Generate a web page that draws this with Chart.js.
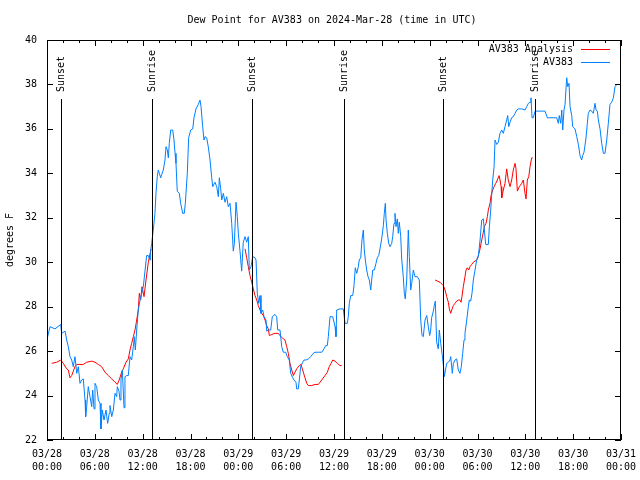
<!DOCTYPE html>
<html>
<head>
<meta charset="utf-8">
<script src="https://cdn.jsdelivr.net/npm/chart.js@4"></script>
<style>
  html, body { margin: 0; padding: 0; background: #fff; }
  #wrap { width: 640px; height: 480px; }
</style>
</head>
<body>
<div id="wrap"><canvas id="chart" width="640" height="480"></canvas></div>
<script>
// hours after 03/28 00:00 UTC and dew point (deg F)
const obsHours = [
  0.05, 0.38, 1.00, 1.72, 1.84, 2.26, 2.47, 2.67, 2.89, 3.10,
  3.30, 3.51, 3.73, 3.93, 4.14, 4.35, 4.55, 4.77, 4.85, 4.98,
  5.18, 5.39, 5.61, 5.73, 5.90, 6.02, 6.23, 6.44, 6.65, 6.77,
  6.94, 7.15, 7.40, 7.61, 7.81, 7.90, 8.12, 8.32, 8.53, 8.74,
  8.82, 9.03, 9.16, 9.28, 9.45, 9.66, 9.78, 10.00, 10.20, 10.41,
  10.62, 10.83, 10.95, 11.08, 11.25, 11.45, 11.67, 12.08, 12.29, 12.50,
  12.71, 12.92, 13.00, 13.13, 13.33, 13.54, 13.67, 13.83, 13.96, 14.09,
  14.26, 14.39, 14.59, 14.80, 14.93, 15.09, 15.22, 15.34, 15.52, 15.77,
  15.93, 16.06, 16.18, 16.34, 16.60, 16.77, 17.02, 17.22, 17.35, 17.60,
  17.77, 18.03, 18.28, 18.44, 18.69, 18.98, 19.19, 19.32, 19.53, 19.69,
  19.82, 20.03, 20.23, 20.45, 20.66, 20.79, 21.07, 21.29, 21.49, 21.62,
  21.79, 21.92, 22.12, 22.33, 22.54, 22.74, 22.96, 23.17, 23.37, 23.50,
  23.71, 23.87, 24.00, 24.21, 24.42, 24.62, 24.84, 25.05, 25.25, 25.38,
  25.59, 25.80, 26.09, 26.22, 26.38, 26.56, 26.72, 26.84, 27.06, 27.22,
  27.47, 27.56, 27.76, 28.06, 28.26, 28.60, 28.81, 28.94, 29.23, 29.44,
  29.64, 29.94, 30.14, 30.39, 30.57, 30.82, 30.98, 31.23, 31.32, 31.52,
  31.65, 31.82, 32.07, 32.24, 32.49, 32.78, 33.08, 33.40, 33.62, 34.03,
  34.46, 34.66, 34.96, 35.16, 35.29, 35.50, 35.84, 36.13, 36.25, 36.34,
  36.75, 37.17, 37.38, 37.67, 37.79, 37.92, 38.10, 38.35, 38.51, 38.67,
  38.85, 39.05, 39.17, 39.35, 39.51, 39.68, 39.80, 39.93, 40.10, 40.27,
  40.43, 40.61, 40.73, 40.86, 41.06, 41.27, 41.43, 41.61, 41.77, 41.98,
  42.19, 42.31, 42.44, 42.53, 42.69, 42.86, 43.03, 43.24, 43.36, 43.53,
  43.65, 43.78, 43.94, 44.07, 44.19, 44.37, 44.50, 44.69, 44.82, 44.94,
  45.12, 45.32, 45.45, 45.62, 45.75, 45.95, 46.16, 46.45, 46.70, 46.88,
  47.04, 47.20, 47.42, 47.63, 47.83, 48.00, 48.13, 48.25, 48.46, 48.58,
  48.71, 48.88, 49.08, 49.21, 49.39, 49.55, 49.71, 49.84, 49.96, 50.14,
  50.34, 50.55, 50.64, 50.84, 50.97, 51.18, 51.39, 51.59, 51.80, 51.97,
  52.14, 52.31, 52.43, 52.65, 52.85, 52.97, 53.15, 53.31, 53.48, 53.69,
  53.90, 54.10, 54.32, 54.53, 54.73, 54.86, 55.03, 55.36, 55.49, 55.66,
  55.79, 55.91, 56.08, 56.20, 56.41, 56.61, 56.82, 57.04, 57.24, 57.45,
  57.66, 57.79, 57.92, 58.08, 58.29, 58.49, 58.71, 58.92, 59.12, 59.55,
  59.96, 60.17, 60.38, 60.59, 60.71, 60.84, 61.00, 61.22, 62.47, 62.76,
  63.94, 64.14, 64.26, 64.44, 64.57, 64.69, 64.85, 64.98, 65.19, 65.32,
  65.48, 65.61, 65.82, 65.94, 66.23, 66.45, 66.65, 66.86, 67.07, 67.20,
  67.36, 67.58, 67.78, 67.90, 68.11, 68.33, 68.53, 68.74, 68.87, 69.03,
  69.16, 69.37, 69.58, 69.79, 69.99, 70.21, 70.41, 70.62, 70.83, 71.04,
  71.25, 71.46, 71.88, 72.00
];
const obsDewPoint = [
  26.6, 27.1, 27.0, 27.2, 26.8, 26.9, 26.5, 26.2, 25.75, 25.6,
  25.3, 25.75, 25.0, 25.3, 24.55, 24.7, 24.75, 23.8, 23.05, 23.5,
  24.4, 23.95, 23.5, 24.25, 23.4, 24.55, 24.4, 23.8, 23.65, 22.5,
  23.35, 22.9, 23.35, 22.75, 23.2, 23.55, 23.05, 23.35, 24.1, 23.95,
  24.4, 24.2, 23.8, 24.7, 25.15, 23.45, 24.85, 24.9, 24.9, 25.75,
  25.6, 26.2, 26.65, 26.05, 26.95, 27.85, 28.3, 28.9, 29.6, 30.3,
  30.3, 30.1, 30.5, 30.85, 31.45, 32.2, 33.1, 33.85, 34.15, 34.0,
  33.8, 33.95, 34.15, 34.6, 35.2, 35.05, 34.7, 35.35, 35.95, 35.95,
  35.5, 34.9, 34.45, 33.2, 33.1, 32.65, 32.2, 32.2, 32.65, 34.0,
  35.6, 35.95, 36.0, 36.5, 36.9, 37.1, 37.3, 37.0, 36.1, 35.5,
  35.65, 35.6, 35.2, 34.6, 33.8, 33.4, 33.6, 33.4, 32.95, 33.8,
  33.3, 32.8, 33.1, 32.7, 32.95, 32.5, 32.65, 31.75, 30.5, 30.85,
  32.7, 32.05, 31.3, 30.5, 29.6, 30.9, 31.15, 30.9, 31.15, 29.65,
  29.8, 30.25, 30.2, 30.1, 28.6, 28.15, 28.5, 27.7, 27.85, 27.55,
  27.4, 26.9, 26.95, 26.95, 27.55, 27.65, 27.55, 26.95, 26.95, 26.2,
  25.95, 25.95, 25.75, 25.6, 25.0, 24.8, 24.7, 24.6, 24.3, 24.3,
  24.7, 25.3, 25.5, 25.6, 25.6, 25.65, 25.75, 25.9, 25.95, 25.95,
  25.95, 26.05, 26.25, 26.25, 26.65, 27.55, 27.55, 27.1, 26.65, 27.85,
  27.9, 27.9, 27.25, 27.25, 27.55, 28.15, 28.5, 28.5, 28.95, 29.75,
  29.5, 29.8, 30.1, 30.2, 31.0, 31.45, 30.55, 30.1, 29.65, 29.35,
  29.2, 28.75, 29.2, 29.65, 29.65, 29.95, 30.2, 30.3, 30.6, 31.05,
  31.65, 32.2, 32.65, 31.9, 31.3, 30.85, 30.7, 30.85, 31.15, 31.75,
  32.2, 31.6, 31.95, 31.3, 31.8, 31.15, 30.1, 29.35, 28.6, 28.35,
  29.2, 31.45, 30.25, 28.75, 29.05, 29.65, 29.35, 29.35, 29.2, 27.4,
  26.7, 26.65, 27.4, 27.6, 27.1, 26.7, 26.95, 27.5, 27.8, 28.05,
  28.25, 26.4, 26.1, 26.95, 26.35, 25.9, 25.4, 24.85, 25.1, 25.45,
  25.5, 25.6, 25.75, 25.0, 25.45, 25.6, 25.65, 25.15, 25.0, 25.3,
  25.9, 26.5, 26.8, 27.4, 28.0, 28.3, 28.25, 28.6, 29.2, 29.65,
  30.1, 30.25, 31.0, 31.9, 31.95, 31.45, 30.8, 30.8, 31.6, 32.35,
  33.1, 33.7, 34.3, 35.5, 35.3, 35.4, 35.8, 35.95, 35.8, 36.1,
  36.4, 36.6, 36.1, 36.3, 36.5, 36.55, 36.7, 36.85, 36.9, 36.9,
  36.85, 37.0, 37.15, 37.2, 37.4, 36.5, 36.5, 36.8, 36.8, 36.5,
  36.5, 36.25, 36.6, 36.25, 36.85, 35.95, 36.85, 37.1, 38.3, 37.9,
  38.05, 37.0, 36.6, 36.1, 36.0, 35.65, 35.3, 34.8, 34.6, 34.8,
  34.95, 35.5, 36.25, 36.7, 36.85, 36.8, 36.7, 37.15, 36.85, 36.8,
  36.4, 36.0, 35.35, 34.9, 34.9, 35.5, 36.25, 37.1, 37.2, 37.4,
  37.9, 38.0, 38.0, 38.0
];

// analysis series, null marks the gaps between its three pieces
const analysisHours = [
  0.59, 1.22, 1.72, 2.04, 2.47, 2.67, 2.89, 3.10, 3.30, 3.51,
  3.73, 4.14, 4.55, 4.98, 5.61, 6.02, 6.44, 6.86, 7.27, 7.69,
  8.12, 8.53, 8.82, 9.06, 9.36, 9.57, 9.91, 10.20, 10.41, 10.62,
  10.83, 11.04, 11.25, 11.45, 11.58, 11.75, 11.92, 12.17, 12.42, 12.71,
  13.05, 19.00,
  24.84, 25.05, 25.25, 25.46, 25.68, 25.88, 26.09, 26.31, 26.51, 26.72,
  26.93, 27.13, 27.35, 27.56, 27.76, 27.89, 28.19, 28.60, 29.02, 29.23,
  29.64, 29.85, 30.07, 30.27, 30.48, 30.70, 30.90, 31.11, 31.32, 31.65,
  31.86, 32.07, 32.36, 32.58, 32.78, 33.20, 33.62, 34.03, 34.46, 34.87,
  35.16, 35.41, 35.63, 35.84, 36.13, 36.42, 36.75, 36.97, 43.00,
  48.67, 49.30, 49.71, 49.93, 50.14, 50.34, 50.47, 50.64, 50.77, 50.97,
  51.18, 51.39, 51.59, 51.80, 51.93, 52.05, 52.22, 52.43, 52.56, 52.72,
  52.90, 53.06, 53.27, 53.48, 53.69, 53.90, 54.10, 54.32, 54.53, 54.73,
  54.86, 55.07, 55.24, 55.36, 55.57, 55.70, 55.91, 56.08, 56.29, 56.49,
  56.71, 56.83, 56.96, 57.04, 57.24, 57.45, 57.66, 57.86, 58.08, 58.29,
  58.49, 58.71, 58.83, 59.00, 59.25, 59.55, 59.75, 59.96, 60.09, 60.25,
  60.43, 60.59, 60.80, 60.92
];
const analysisDewPoint = [
  25.45, 25.5, 25.6, 25.45, 25.2, 25.15, 24.8, 24.9, 25.1, 25.3,
  25.4, 25.4, 25.4, 25.5, 25.55, 25.5, 25.4, 25.3, 25.05, 24.9,
  24.75, 24.6, 24.5, 24.7, 25.05, 25.2, 25.5, 25.65, 26.05, 26.35,
  26.65, 26.95, 27.4, 27.85, 28.6, 28.3, 28.9, 28.45, 29.2, 30.0,
  30.6, null,
  30.6, 30.2, 29.8, 29.4, 29.1, 28.8, 28.5, 28.3, 28.05, 27.85,
  27.7, 27.6, 27.4, 27.15, 27.0, 26.7, 26.75, 26.8, 26.8, 26.7,
  26.55, 26.5, 26.2, 25.9, 25.45, 25.15, 24.9, 25.05, 25.2, 25.35,
  25.4, 25.15, 24.8, 24.55, 24.45, 24.45, 24.5, 24.5, 24.7, 24.9,
  25.05, 25.3, 25.45, 25.6, 25.55, 25.45, 25.35, 25.35, null,
  29.2, 29.1, 28.95, 28.75, 28.45, 28.2, 27.9, 27.7, 27.85, 28.05,
  28.15, 28.25, 28.3, 28.3, 28.2, 28.45, 28.9, 29.35, 29.65, 29.75,
  29.65, 29.8, 29.9, 30.0, 30.05, 30.1, 30.3, 30.6, 31.0, 31.35,
  31.6, 31.75, 32.05, 32.35, 32.65, 33.0, 33.25, 33.4, 33.55, 33.7,
  33.9, 33.7, 33.4, 32.9, 33.25, 33.55, 34.2, 33.7, 33.4, 33.7,
  34.15, 34.45, 34.2, 33.2, 33.4, 33.55, 33.7, 33.1, 32.85, 33.7,
  33.85, 34.3, 34.7, 34.7
];

const sunHours = [1.72, 13.21, 25.71, 37.29, 49.71, 61.25];
const sunLabels = ['Sunset', 'Sunrise', 'Sunset', 'Sunrise', 'Sunset', 'Sunrise'];

const dayLabels = ['03/28', '03/28', '03/28', '03/28', '03/29', '03/29', '03/29',
                   '03/29', '03/30', '03/30', '03/30', '03/30', '03/31'];
const timeLabels = ['00:00', '06:00', '12:00', '18:00', '00:00', '06:00', '12:00',
                    '18:00', '00:00', '06:00', '12:00', '18:00', '00:00'];

const FONT_FAMILY = 'DejaVu Sans Mono';
const FONT = '10px "DejaVu Sans Mono"';

function toPoints(xs, ys) {
    return xs.map((h, i) => ({ x: h, y: ys[i] }));
}

function hline(ctx, x1, y1, x2, y2) {
    ctx.beginPath();
    ctx.moveTo(x1, y1);
    ctx.lineTo(x2, y2);
    ctx.stroke();
}

// gnuplot-like frame, inward ticks, sun markers, title and key
const gnuplotLook = {
    id: 'gnuplotLook',
    beforeDraw(chart) {
        const ctx = chart.ctx;
        ctx.save();
        ctx.fillStyle = '#fff';
        ctx.fillRect(0, 0, chart.width, chart.height);
        ctx.restore();
    },
    afterDatasetsDraw(chart) {
        const { ctx, chartArea: a, scales: { x, y } } = chart;
        ctx.save();
        ctx.strokeStyle = '#000';
        ctx.fillStyle = '#000';
        ctx.lineWidth = 1;
        ctx.font = FONT;

        sunHours.forEach((h, i) => {
            const px = Math.round(x.getPixelForValue(h)) + 0.5;
            hline(ctx, px, a.top + 59, px, a.bottom);
            ctx.save();
            ctx.translate(px, a.top + 52);
            ctx.rotate(-Math.PI / 2);
            ctx.textAlign = 'left';
            ctx.textBaseline = 'middle';
            ctx.fillText(sunLabels[i], 0, 0);
            ctx.restore();
        });

        // frame
        ctx.strokeRect(a.left + 0.5, a.top + 0.5, a.right - a.left - 1, a.bottom - a.top - 1);

        // ticks on all four sides, pointing in
        x.ticks.forEach(t => {
            const px = Math.round(x.getPixelForValue(t.value)) + 0.5;
            const len = t.value % 6 === 0 ? 6 : 3;
            hline(ctx, px, a.bottom, px, a.bottom - len);
            hline(ctx, px, a.top, px, a.top + len);
        });
        y.ticks.forEach(t => {
            const py = Math.round(y.getPixelForValue(t.value)) + 0.5;
            hline(ctx, a.left, py, a.left + 6, py);
            hline(ctx, a.right, py, a.right - 6, py);
        });

        // title
        ctx.textAlign = 'center';
        ctx.textBaseline = 'middle';
        ctx.fillText('Dew Point for AV383 on 2024-Mar-28 (time in UTC)', (a.left + a.right) / 2 - 2, 20);

        // key
        const ds = chart.data.datasets;
        ctx.textAlign = 'right';
        [1, 0].forEach((di, row) => {
            const ly = a.top + 9.5 + row * 13;
            ctx.fillStyle = '#000';
            ctx.fillText(ds[di].label, a.right - 48, ly);
            ctx.strokeStyle = ds[di].borderColor;
            hline(ctx, a.right - 40, ly, a.right - 11, ly);
        });
        ctx.restore();
    }
};

(function() {
    new Chart(
        document.getElementById('chart'),
        {
            type: 'line',
            data: {
                datasets: [
                    {
                        label: 'AV383',
                        data: toPoints(obsHours, obsDewPoint),
                        borderColor: 'rgb(0, 128, 255)',
                        borderWidth: 1,
                        pointRadius: 0,
                        tension: 0
                    },
                    {
                        label: 'AV383 Analysis',
                        data: toPoints(analysisHours, analysisDewPoint),
                        borderColor: 'rgb(255, 0, 0)',
                        borderWidth: 1,
                        pointRadius: 0,
                        tension: 0,
                        spanGaps: false
                    }
                ]
            },
            options: {
                responsive: false,
                animation: false,
                devicePixelRatio: 1,
                layout: { padding: { top: 40, right: 19, left: 0, bottom: 0 } },
                plugins: {
                    legend: { display: false },
                    title: { display: false },
                    tooltip: { enabled: false }
                },
                scales: {
                    x: {
                        type: 'linear',
                        min: 0,
                        max: 72,
                        afterFit: s => {
                            s.height = 40;
                            s.paddingLeft = 0;
                            s.paddingRight = 0;
                        },
                        grid: { display: false, drawTicks: false },
                        border: { display: false },
                        ticks: {
                            stepSize: 2,
                            autoSkip: false,
                            maxRotation: 0,
                            minRotation: 0,
                            padding: 8,
                            color: '#000',
                            font: { family: FONT_FAMILY, size: 10, lineHeight: 1.3 },
                            callback: v => v % 6 === 0 ? [dayLabels[v / 6], timeLabels[v / 6]] : ''
                        }
                    },
                    y: {
                        min: 22,
                        max: 40,
                        afterFit: s => { s.width = 47; },
                        grid: { display: false, drawTicks: false },
                        border: { display: false },
                        ticks: {
                            stepSize: 2,
                            padding: 10,
                            color: '#000',
                            font: { family: FONT_FAMILY, size: 10 }
                        },
                        title: {
                            display: true,
                            text: 'degrees F',
                            color: '#000',
                            font: { family: FONT_FAMILY, size: 10 },
                            padding: { top: 4, bottom: 4 }
                        }
                    }
                }
            },
            plugins: [gnuplotLook]
        }
    );
})();
</script>
</body>
</html>
